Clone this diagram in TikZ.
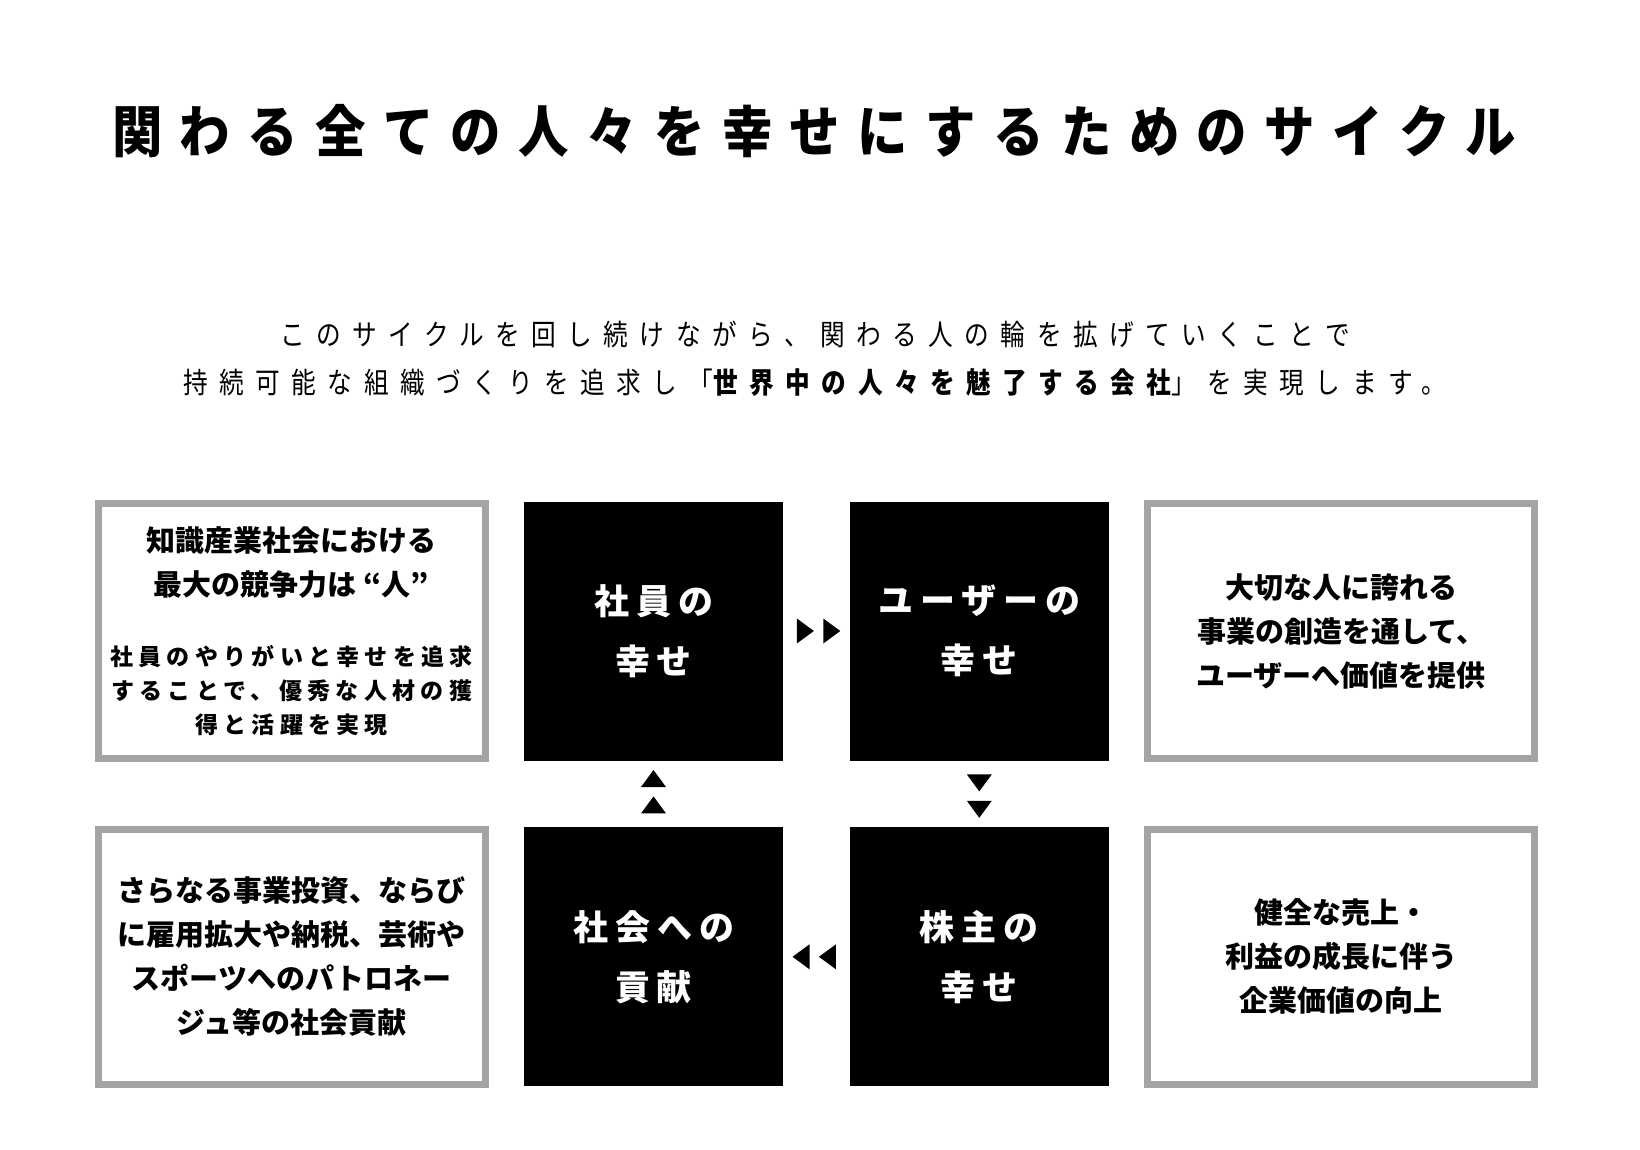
\documentclass[tikz,border=0pt]{standalone}
\usepackage{fontspec}
\usetikzlibrary{positioning,shapes.geometric}
\newfontfamily\jp{Noto Sans CJK JP}
\definecolor{framegray}{RGB}{163,165,163}
\newcommand{\notesmall}{\fontsize{11.5pt}{22pt}\selectfont\addfontfeatures{LetterSpace=23}}

\begin{document}
\begin{tikzpicture}[
x=0.5pt, y=-0.5pt,
node distance=33pt and 33pt,
cycbox/.style={fill=black, text=white, minimum width=129.5pt, minimum height=129.5pt, inner sep=0pt, align=center, font=\jp\bfseries\fontsize{17.5pt}{30pt}\selectfont\addfontfeatures{LetterSpace=20}},
notebox/.style={draw=framegray, line width=3.5pt, fill=white, minimum width=193.5pt, minimum height=127.5pt, inner sep=0pt, align=center, font=\jp\bfseries\fontsize{14.5pt}{22pt}\selectfont},
tri/.style={isosceles triangle, isosceles triangle stretches, fill=black, inner sep=0pt, outer sep=0pt, minimum width=12.5pt, minimum height=8.5pt}
]
\useasboundingbox (0,0) rectangle (1640,1150);

% heading
\node[font=\jp\bfseries\fontsize{28pt}{34pt}\selectfont\addfontfeatures{FakeStretch=0.9,LetterSpace=31}] (title) at (814,131) {関わる全ての人々を幸せにするためのサイクル};
\node[align=center, font=\jp\fontsize{14.5pt}{24pt}\selectfont\addfontfeatures{FakeStretch=0.85,LetterSpace=39.5}] (lead) at (815,359) {このサイクルを回し続けながら、関わる人の輪を拡げていくことで\\持続可能な組織づくりを追求し「{\bfseries 世界中の人々を魅了する会社}」を実現します。};

% cycle
\node[cycbox] (emp) at (653.5,631) {社員の\\幸せ};
\node[cycbox, right=of emp] (user) {ユーザーの\\幸せ};
\node[cycbox, below=of user] (holder) {株主の\\幸せ};
\node[cycbox, below=of emp] (society) {社会への\\貢献};

% notes beside the cycle
\node[notebox, left=17.5pt of emp] (empnote) {知識産業社会における\\最大の競争力は “人”\\[13pt]\notesmall 社員のやりがいと幸せを追求\\[-5pt]\notesmall することで、優秀な人材の獲\\[-5pt]\notesmall 得と活躍を実現};
\node[notebox, right=17.5pt of user] (usernote) {大切な人に誇れる\\事業の創造を通して、\\ユーザーへ価値を提供};
\node[notebox, right=17.5pt of holder] (holdernote) {健全な売上・\\利益の成長に伴う\\企業価値の向上};
\node[notebox, left=17.5pt of society] (societynote) {さらなる事業投資、ならび\\に雇用拡大や納税、芸術や\\スポーツへのパトロネー\\ジュ等の社会貢献};

% arrows
\path (emp.east) -- (user.west) node[tri, pos=0.3] {} node[tri, pos=0.7] {};
\path (user.south) -- (holder.north) node[tri, shape border rotate=-90, pos=0.3] {} node[tri, shape border rotate=-90, pos=0.7] {};
\path (holder.west) -- (society.east) node[tri, shape border rotate=180, pos=0.3] {} node[tri, shape border rotate=180, pos=0.7] {};
\path (society.north) -- (emp.south) node[tri, shape border rotate=90, pos=0.3] {} node[tri, shape border rotate=90, pos=0.7] {};
\end{tikzpicture}
\end{document}
